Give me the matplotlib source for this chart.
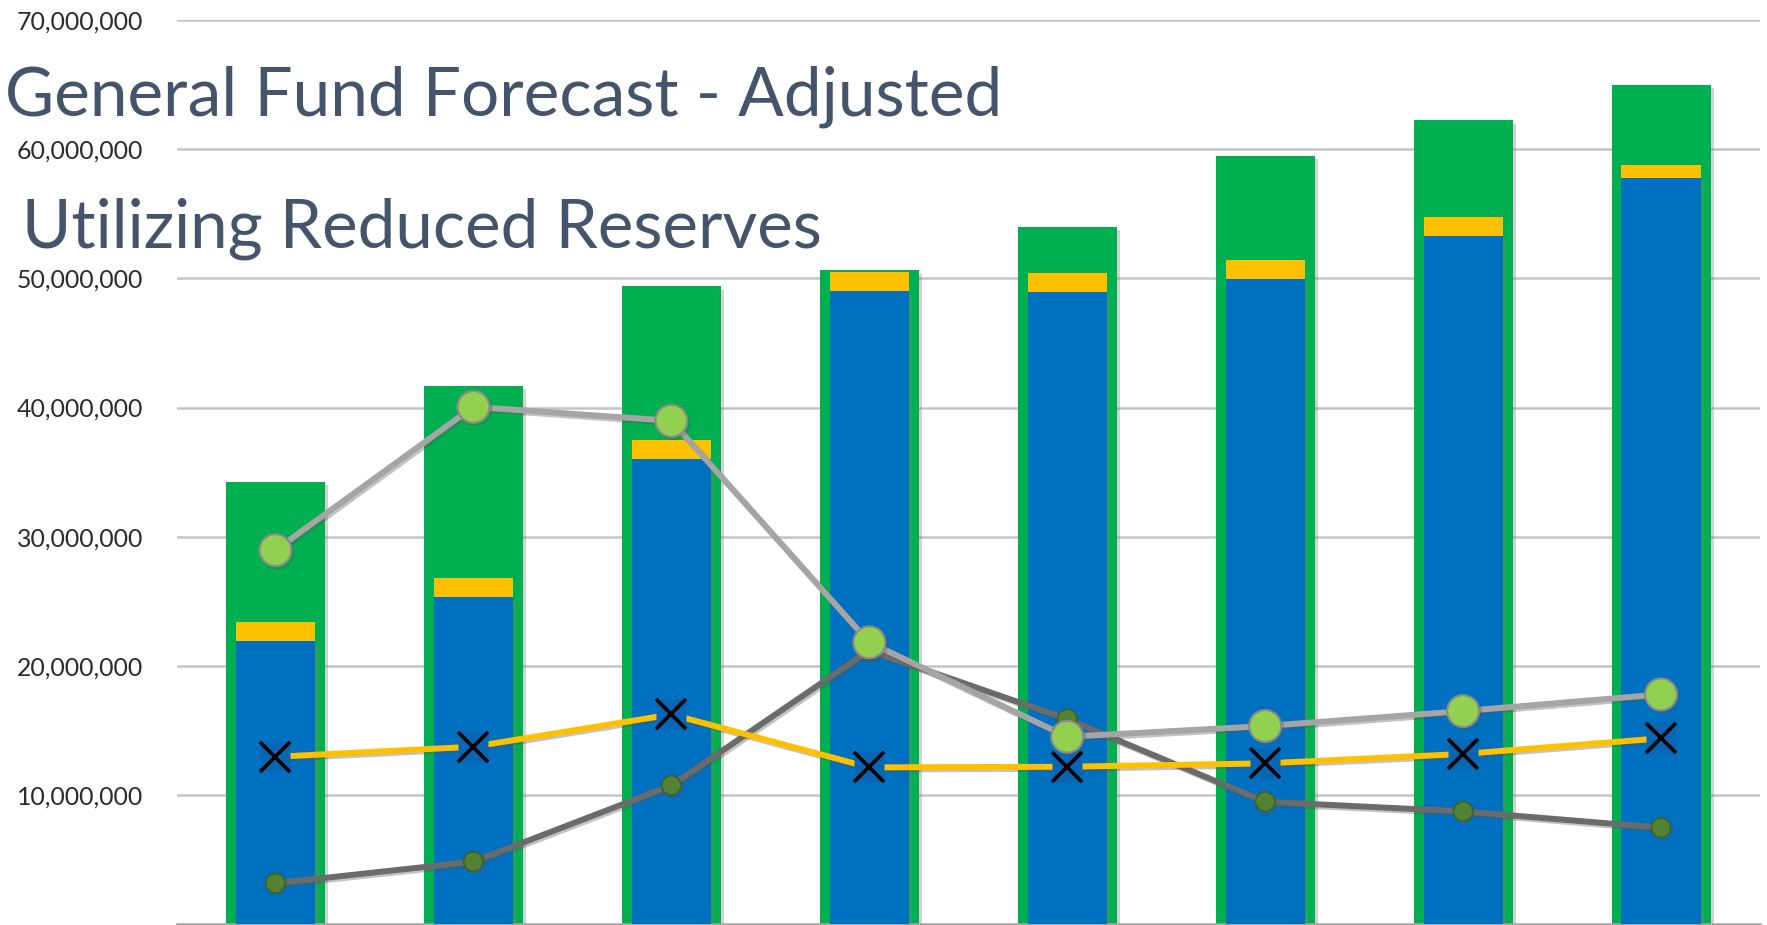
import matplotlib
matplotlib.use("Agg")
import matplotlib.pyplot as plt
import matplotlib.patheffects as pe
import numpy as np

# ---- data (values in dollars) ----
categories = ["1", "2", "3", "4", "5", "6", "7", "8"]
green_total = [34.25e6, 41.70e6, 49.38e6, 50.63e6, 54.00e6, 59.48e6, 62.24e6, 65.00e6]
blue_base = [21.94e6, 25.30e6, 35.98e6, 49.01e6, 48.91e6, 49.92e6, 53.29e6, 57.78e6]
yellow_band = [1.47e6, 1.47e6, 1.50e6, 1.49e6, 1.47e6, 1.49e6, 1.47e6, 1.00e6]
light_line = [28.96e6, 40.05e6, 38.97e6, 21.82e6, 14.51e6, 15.34e6, 16.50e6, 17.79e6]
dark_line = [3.17e6, 4.84e6, 10.74e6, 21.20e6, 15.88e6, 9.48e6, 8.73e6, 7.47e6]
yellow_line = [12.96e6, 13.74e6, 16.24e6, 12.14e6, 12.19e6, 12.45e6, 13.18e6, 14.39e6]
y_ticks = [10e6, 20e6, 30e6, 40e6, 50e6, 60e6, 70e6]
title1 = "General Fund Forecast - Adjusted"
title2 = "Utilizing Reduced Reserves"

W, H = 1767, 925
DPI = 100
FONT = "Lato"

fig = plt.figure(figsize=(W / DPI, H / DPI), dpi=DPI)
fig.patch.set_facecolor("white")
ax = fig.add_axes([176.5 / W, 0.8 / H, (1760 - 176.5) / W, (905 - 0.8) / H])
ax.set_facecolor("white")

x = np.arange(len(categories))

shadow = [pe.SimplePatchShadow(offset=(2.5, -2.5), shadow_rgbFace="#7f7f7f", alpha=0.35), pe.Normal()]

gb = ax.bar(x, green_total, width=0.5, color="#00B050", zorder=2)
bb = ax.bar(x, blue_base, width=0.4, color="#0070C0", zorder=3)
yb = ax.bar(x, yellow_band, width=0.4, bottom=blue_base, color="#FFC000", zorder=3)
for p in list(gb) + list(bb):
    p.set_path_effects(shadow)

line_shadow = [pe.SimpleLineShadow(offset=(1.5, -1.5), shadow_color="#555555", alpha=0.35), pe.Normal()]

ax.plot(x, dark_line, color="#6B6B6B", lw=4.3, marker="o", ms=14,
        mfc="#548235", mec="#3E6226", mew=1.2, zorder=5, path_effects=line_shadow)
ax.plot(x, yellow_line, color="#FFC000", lw=4.3, zorder=6, path_effects=line_shadow)
ax.plot(x, yellow_line, ls="none", marker="s", ms=21, mfc="#0866B4", mec="none", zorder=6.2)
ax.plot(x, yellow_line, ls="none", marker="x", ms=22, mec="black", mew=2.6, zorder=6.5)
ax.plot(x, light_line, color="#A5A5A5", lw=4.3, marker="o", ms=23,
        mfc="#92D050", mec="#8A8A8A", mew=1.5, zorder=7, path_effects=line_shadow)

ax.set_xlim(-0.5, len(categories) - 0.5)
ax.set_ylim(0, 70e6)
ax.set_yticks(y_ticks)
ax.set_xticks([])
ax.grid(axis="y", color="#C4C4C4", lw=1.8, zorder=0)
ax.set_axisbelow(True)
for s in ["left", "right", "top"]:
    ax.spines[s].set_visible(False)
ax.spines["bottom"].set_color("#A6A6A6")
ax.spines["bottom"].set_linewidth(1.8)
ax.tick_params(axis="y", length=0, pad=24)

# fit tick label font size to the reference width (~128 px for "70,000,000")
fig.canvas.draw()
r = fig.canvas.get_renderer()
t = fig.text(0, 0, "70,000,000", fontsize=20, family=FONT)
w = t.get_window_extent(r).width
t.remove()
tick_fs = 20 * 127 / w
ax.set_yticklabels([f"{v:,.0f}" for v in y_ticks], fontsize=tick_fs, family=FONT, color="#2B2B2B")

# titles, sized to reference widths
def fitted(txt, target_w, x0, baseline):
    tt = fig.text(x0 / W, (H - baseline) / H, txt, fontsize=50, family=FONT,
                  color="#44546A", va="baseline", ha="left", zorder=10)
    fig.canvas.draw()
    ww = tt.get_window_extent(fig.canvas.get_renderer()).width
    tt.set_fontsize(50 * target_w / ww)
    return tt

fitted(title1, 997, 5, 115)
fitted(title2, 801, 22, 248)

fig.savefig("out.png", dpi=DPI, facecolor="white")
